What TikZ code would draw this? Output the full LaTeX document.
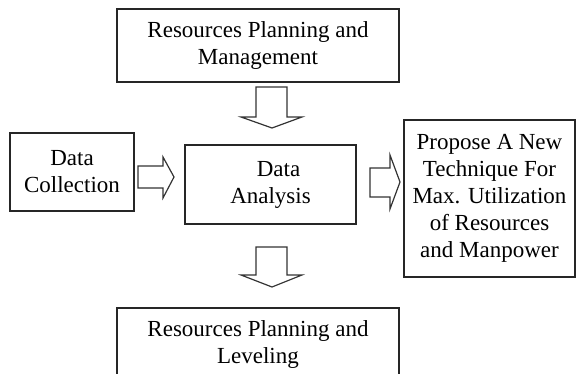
\documentclass[tikz,border=0pt]{standalone}
\usepackage{fontspec}
\setmainfont{Liberation Serif}
\begin{document}
\begin{tikzpicture}[x=1pt,y=-1pt,
  box/.style={draw=black!85,line width=1.4pt,align=center,inner sep=0pt,
    font=\fontsize{23}{27}\selectfont},
  blockarrow/.style={draw=black!80,line width=1.2pt,fill=white,line join=miter}]
\useasboundingbox (0,0) rectangle (576,374);
\begin{scope}
\clip (0,0) rectangle (576,374);
% process boxes
\node[box,minimum width=282pt,minimum height=73pt] (plan) at (258,45.5)
  {Resources Planning and\\Management};
\node[box,minimum width=124pt,minimum height=78pt] (coll) at (72,172)
  {Data\\Collection};
\node[box,minimum width=171pt,minimum height=79pt] (anal) at (270.5,184.5)
  {\hspace*{16pt}Data\\Analysis};
\node[box,minimum width=171pt,minimum height=157pt] (prop) at (489.5,198.5)
  {Propose A New\\Technique For\\Max. Utilization\\of Resources\\and Manpower};
\node[box,minimum width=282pt,minimum height=73pt] (level) at (258,344.5)
  {Resources Planning and\\Leveling};
% hollow block arrows between the boxes
\draw[blockarrow] (256,87) -- (287,87) -- (287,117) -- (302,117) -- (272,128)
  -- (241,117) -- (256,117) -- cycle;
\draw[blockarrow] (256,247) -- (287,247) -- (287,275) -- (302,275) -- (272,287)
  -- (241,275) -- (256,275) -- cycle;
\draw[blockarrow] (138,166) -- (163,166) -- (163,157) -- (174,177) -- (163,198)
  -- (163,188) -- (138,188) -- cycle;
\draw[blockarrow] (370,168) -- (390,168) -- (390,155) -- (400,182) -- (390,209)
  -- (390,197) -- (370,197) -- cycle;
\end{scope}
\end{tikzpicture}
\end{document}
